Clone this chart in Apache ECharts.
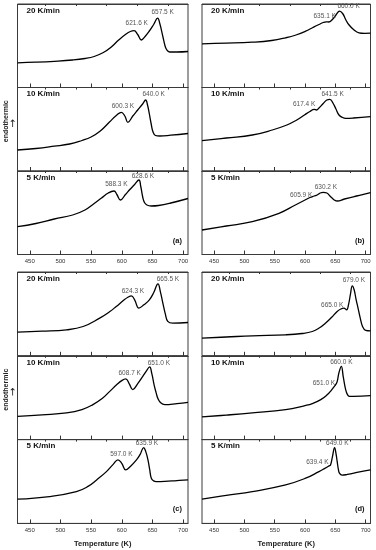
<!DOCTYPE html>
<html><head><meta charset="utf-8">
<script src="https://cdn.jsdelivr.net/npm/echarts@6/dist/echarts.min.js"></script>
<style>html,body{margin:0;padding:0;background:#fff}#c{width:376px;height:550px}</style>
</head><body><div id="c"></div>
<script>
// ---------- DATA ----------
const rates = ['20 K/min', '10 K/min', '5 K/min'];
const panelNames = ['(a)', '(b)', '(c)', '(d)'];
const xTicks = [450, 500, 550, 600, 650, 700];
const xMinorTicks = [475, 525, 575, 625, 675];
const xTitle = 'Temperature (K)';
const yTitle = 'endothermic';
const yArrow = '→';

// panel (a)
const tA20 = [430,460,490,520,540,555,570,582,595,607,614,620,626,632,638,645,652,658.5,662,667,670,673,678,690,708];
const vA20 = [24.7,25.3,26.2,27.5,29,31,35,40,47.5,53.5,56,56.8,53,47.5,51,56.5,63,69.3,64,51,43,38,35.5,35.5,36];
const tA10 = [430,460,490,515,535,550,565,580,592,599.3,605,610,618,626,634,639,642,645,648,651,655,662,680,708];
const vA10 = [21,22.5,24.8,27,30.5,34,40,49,56,58.7,55,48.7,55,61,67,71,66,57,47,39,35.5,35,35.8,37.5];
const tA5 = [430,460,490,520,540,555,567,578,587.3,592,598,606,614,621,628,631,634,637,641,648,660,680,708];
const vA5 = [27.8,31,35.5,39.5,44.5,51,56.5,61.5,63.5,60,54.5,60,65.5,70,74.5,68,58,52,49.5,48.5,49,51.5,56];
// panel (b)
const tB20 = [430,470,513,545,568,585,601,613,623,630,635,639,645,651,657,662,667,672,680,689,698,708];
const vB20 = [43.7,44.3,45.3,47,49.7,52.5,56.3,60,63,65,65.7,65.5,68,72.5,76.3,74,68,63,58,54.7,54.2,54.3];
const tB10 = [430,470,513,546,570,585,599,608,615,619,623,630,636,641,646,651,656,662,667,680,708];
const vB10 = [30.3,33,36,41,46,50.5,56,59.5,61.7,61,63,67.5,71,71.7,68,62,56,53.5,52.7,53,54.3];
const tB5 = [430,470,513,557,584,600,608,615,620,625,630,636,641,645,649,653,665,685,708];
const vB5 = [24.5,28.5,32.8,41.2,49.5,54.5,57,58.5,59.5,61.5,62.2,61.5,58.5,56.2,54.3,53.5,55.5,58.5,61.8];
// panel (c)
const tC20 = [430,470,510,537,564,580,591,604,610,615.6,621,628,636,645,652,659,663,667,671,675,683,708];
const vC20 = [23.7,24.6,26,29.3,37.7,44,49.3,56,58.5,60,56,47.7,51,56,63,72,64,52.7,42,34.5,32.7,33.3];
const tC10 = [430,470,510,535,553,568,580,592,600,606.4,612,618,626,634,640,645.4,649,653,656,659,664,670,690,708];
const vC10 = [23.3,24.8,26.7,30,35,41,48,55,59,60.7,56,50,56,63,68.5,72.7,66,54,47,41,36.5,35,36,37.3];
const tC5 = [430,482,526,545,559,575,586,593.8,600,606.4,614,624,630,635.7,639,642.7,645.5,648.2,652,656,670,690,708];
const vC5 = [24.2,26.8,31.8,37,43.5,51.8,59,63.5,60,53.5,57,63.5,69,75.8,72,63.5,54,45.2,42.5,41.8,42,42.8,43.5];
// panel (d)
const tD20 = [430,470,513,568,595,612,624,634,644,653,659,664,668.5,672,675,678,681,684,687,691,695,700,708];
const vD20 = [17.7,18.8,20,21,22.3,24.3,28,32.7,38.5,44.3,46.8,47.7,46,52,62,70,66,57,49,38,29,25.5,25];
const tD10 = [430,470,513,568,600,612,626,636,643,648,650.5,653,656,659.9,663,667,670,673,680,708];
const vD10 = [22.7,24.5,26.7,30,34,36,40,44.5,49,53,55,58,67,73.3,63,50,45,43.3,43.3,44];
const tD5 = [430,470,513,568,601,623,632,639.5,642,645,648.8,651,653,655,657,661,670,690,708];
const vD5 = [24.2,28,31.8,38.5,45.2,51.8,54.8,57.5,58.5,66,75.8,70,62,54,50,48.2,49,51.5,53.5];

// peak annotations: label texts and the temperature of the data point they mark
const annA20 = ['621.6 K', '657.5 K'], annA20T = [620, 658.5];
const annA10 = ['600.3 K', '640.0 K'], annA10T = [599.3, 639];
const annA5  = ['588.3 K', '628.6 K'], annA5T  = [587.3, 628];
const annB20 = ['635.1 K', '660.0 K'], annB20T = [639, 657];
const annB10 = ['617.4 K', '641.5 K'], annB10T = [615, 641];
const annB5  = ['605.9 K', '630.2 K'], annB5T  = [615, 630];
const annC20 = ['624.3 K', '665.5 K'], annC20T = [615.6, 659];
const annC10 = ['608.7 K', '651.0 K'], annC10T = [606.4, 645.4];
const annC5  = ['597.0 K', '635.9 K'], annC5T  = [593.8, 635.7];
const annD20 = ['665.0 K', '679.0 K'], annD20T = [664, 678];
const annD10 = ['651.0 K', '660.0 K'], annD10T = [650.5, 659.9];
const annD5  = ['639.4 K', '649.0 K'], annD5T  = [639.5, 648.8];

// ---------- LAYOUT / STYLE ----------
const FONT = 'Liberation Sans, Arial, sans-serif';
const subs = [
  [tA20,vA20,annA20,annA20T],[tA10,vA10,annA10,annA10T],[tA5,vA5,annA5,annA5T],
  [tB20,vB20,annB20,annB20T],[tB10,vB10,annB10,annB10T],[tB5,vB5,annB5,annB5T],
  [tC20,vC20,annC20,annC20T],[tC10,vC10,annC10,annC10T],[tC5,vC5,annC5,annC5T],
  [tD20,vD20,annD20,annD20T],[tD10,vD10,annD10,annD10T],[tD5,vD5,annD5,annD5T]
];
const panelBox = [
  {left: 17.5, width: 170.5, top: 4, h: 83.5},
  {left: 202, width: 168.5, top: 4, h: 83.5},
  {left: 17.5, width: 170.5, top: 272, h: 83.8},
  {left: 202, width: 168.5, top: 272, h: 83.8}
];
const annOffsets = [
  [[2.7,-7.3],[5,-6.4]], [[1.6,-6.3],[8,-5.7]], [[2.4,-6.7],[4,-3.3]],
  [[-4,-5.6],[9,-5]], [[-10,-5],[2.7,-5]], [[-13,-1],[2.7,-5]],
  [[1.6,-5],[10,-5]], [[4,-5.3],[9.3,-4]], [[3.4,-5.7],[3.3,-4.4]],
  [[-11.6,-3.3],[1.6,-5.3]], [[-11.7,-1.7],[0,-4]], [[-11.6,-3.7],[2.7,-4.4]]
];

const grid = [], xAxis = [], yAxis = [], series = [], graphic = [];
subs.forEach((s, g) => {
  const p = Math.floor(g / 3), r = g % 3;
  const box = panelBox[p];
  const top = box.top + r * box.h;
  grid.push({left: box.left, top: top, width: box.width, height: box.h,
    show: true, borderColor: '#3a3a3a', borderWidth: 1, backgroundColor: 'transparent', containLabel: false});
  const bottomRow = r === 2;
  xAxis.push({type: 'value', gridIndex: g, min: 430, max: 708,
    axisLine: {show: true, lineStyle: {color: '#3a3a3a', width: 1}}, splitLine: {show: false},
    axisTick: {show: true, inside: true, length: 4, customValues: xTicks, lineStyle: {color: '#333', width: 1}},
    axisLabel: {show: bottomRow, customValues: xTicks, fontSize: 6, color: '#333', fontFamily: FONT, margin: 4},
    name: (bottomRow && p >= 2) ? xTitle : '', nameLocation: 'middle', nameGap: 17,
    nameTextStyle: {fontSize: 7.5, fontWeight: 'bold', color: '#222', fontFamily: FONT}
  });
  yAxis.push({type: 'value', gridIndex: g, min: 0, max: box.h, show: false});
});
// minor ticks
subs.forEach((s, g) => {
  xAxis.push({type: 'value', gridIndex: g, min: 430, max: 708,
    axisLine: {show: true, lineStyle: {color: '#3a3a3a', width: 1}}, splitLine: {show: false},
    axisTick: {show: true, inside: true, length: 2, customValues: xMinorTicks, lineStyle: {color: '#333', width: 1}},
    axisLabel: {show: false}
  });
});

subs.forEach((s, g) => {
  const [T, V, ann, annT] = s;
  const data = T.map((t, i) => [t, V[i]]);
  const mp = ann.map((txt, k) => {
    const idx = T.indexOf(annT[k]);
    return {coord: data[idx], symbol: 'circle', symbolSize: 0,
      label: {show: true, position: 'inside', formatter: txt, offset: annOffsets[g][k],
        fontSize: 6.5, color: '#555', fontFamily: FONT}};
  });
  series.push({type: 'line', xAxisIndex: g, yAxisIndex: g, data: data,
    showSymbol: false, symbol: 'none', smooth: 0.45,
    lineStyle: {color: '#000', width: 1.3}, animation: false, silent: true,
    markPoint: {data: mp, animation: false, silent: true}
  });
  const p = Math.floor(g / 3), r = g % 3;
  const box = panelBox[p];
  const top = box.top + r * box.h;
  graphic.push({type: 'text', left: box.left + 9, top: top + 2.5,
    style: {text: rates[r], fontSize: 8, fontWeight: 'bold', fill: '#111', fontFamily: FONT}});
});
panelBox.forEach((box, p) => {
  graphic.push({type: 'text', x: box.left + box.width - 6, y: box.top + 3 * box.h - 14,
    style: {text: panelNames[p], fontSize: 7.5, fontWeight: 'bold', fill: '#111', fontFamily: FONT,
      textAlign: 'right', textVerticalAlign: 'middle'}});
  if (p % 2 === 0) {
    const cy = box.top + 1.5 * box.h - 8;
    graphic.push({type: 'text', x: 6, y: cy, rotation: Math.PI / 2,
      style: {text: yTitle, fontSize: 7, fontWeight: 'bold', fill: '#222', fontFamily: FONT,
        textAlign: 'center', textVerticalAlign: 'middle'}});
    graphic.push({type: 'text', x: 13, y: cy + 2, rotation: Math.PI / 2,
      style: {text: yArrow, fontSize: 10, fill: '#222', fontFamily: 'DejaVu Sans, sans-serif',
        textAlign: 'center', textVerticalAlign: 'middle'}});
  }
});

const chart = echarts.init(document.getElementById('c'), null, {renderer: 'canvas'});
chart.setOption({animation: false, backgroundColor: '#fff', grid, xAxis, yAxis, series, graphic});
</script></body></html>
